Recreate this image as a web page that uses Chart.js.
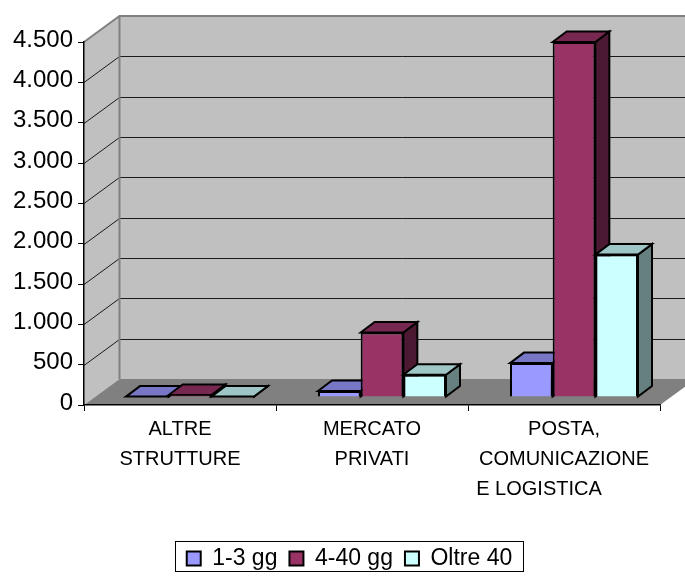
<!DOCTYPE html>
<html>
<head>
<meta charset="utf-8">
<style>
  html, body { margin: 0; padding: 0; background: #fff; }
  canvas { display: block; }
</style>
<script src="https://cdn.jsdelivr.net/npm/chart.js@4/dist/chart.umd.min.js"></script>
</head>
<body>
<canvas id="chart" width="685" height="576"></canvas>
<script>
const categories = [
  ["ALTRE", "STRUTTURE"],
  ["MERCATO", "PRIVATI"],
  ["POSTA,", "COMUNICAZIONE", "E LOGISTICA         "],
];
const seriesNames = ["1-3 gg", "4-40 gg", "Oltre 40"];
const shortStay = [5, 75, 420];
const midStay = [25, 800, 4400];
const longStay = [5, 275, 1765];
const yTickLabels = ["0", "500", "1.000", "1.500", "2.000", "2.500", "3.000", "3.500", "4.000", "4.500"];

// front, top, side colours of each series
const shades = [
  ["#9999FF", "#7777C6", "#4C4C80"],
  ["#993366", "#772850", "#4C1933"],
  ["#CCFFFF", "#9FC6C6", "#668080"],
];

// fake 3d: how far the walls go back, and where the bars sit on the floor
const wallX = 35.5, wallY = 26;
const shiftX = 10, shiftY = 8;
const barX = 14, barY = 10.5;
// the legend is centred under the whole picture, not under the plot
const legendDx = 19.5, legendDy = 4;

function poly(ctx, pts, fill, stroke, width) {
  ctx.beginPath();
  pts.forEach((p, i) => (i ? ctx.lineTo(p[0], p[1]) : ctx.moveTo(p[0], p[1])));
  ctx.closePath();
  if (fill) {
    ctx.fillStyle = fill;
    ctx.fill();
  }
  if (stroke) {
    ctx.strokeStyle = stroke;
    ctx.lineWidth = width;
    ctx.stroke();
  }
}

const walls = {
  id: "walls",
  beforeDraw(chart) {
    const { ctx, chartArea: a, scales } = chart;
    const bx = a.left + wallX;
    ctx.save();
    ctx.fillStyle = "#fff";
    ctx.fillRect(0, 0, chart.width, chart.height);
    poly(ctx, [[bx, a.top - wallY], [a.right + wallX, a.top - wallY], [a.right + wallX, a.bottom - wallY], [bx, a.bottom - wallY]], "#C0C0C0");
    poly(ctx, [[a.left, a.top], [bx, a.top - wallY], [bx, a.bottom - wallY], [a.left, a.bottom]], "#C0C0C0");
    poly(ctx, [[a.left, a.bottom], [bx, a.bottom - wallY], [a.right + wallX, a.bottom - wallY], [a.right, a.bottom]], "#808080");
    // grid lines run along the side wall and then the back wall
    scales.y.ticks.forEach((t) => {
      if (t.value === 0 || t.value === scales.y.max) return;
      const y = Math.round(scales.y.getPixelForValue(t.value)) + 0.5;
      ctx.beginPath();
      ctx.moveTo(a.left, y);
      ctx.lineTo(bx, y - wallY);
      ctx.lineTo(a.right + wallX, y - wallY);
      ctx.strokeStyle = "#1a1a1a";
      ctx.lineWidth = 1;
      ctx.stroke();
    });
    // wall edges
    ctx.beginPath();
    ctx.moveTo(a.left, a.top);
    ctx.lineTo(bx, a.top - wallY);
    ctx.lineTo(a.right + wallX, a.top - wallY);
    ctx.moveTo(bx, a.top - wallY);
    ctx.lineTo(bx, a.bottom - wallY);
    ctx.strokeStyle = "#808080";
    ctx.lineWidth = 2;
    ctx.stroke();
    ctx.restore();
  },
};

// chart.js paints the first dataset last, here the bars have to go left to right
const bars3d = {
  id: "bars3d",
  beforeDatasetsDraw(chart) {
    const ctx = chart.ctx;
    ctx.save();
    ctx.translate(shiftX, -shiftY);
    categories.forEach((_, c) => {
      shades.forEach(([, top, side], s) => {
        const bar = chart.getDatasetMeta(s).data[c];
        const l = bar.x - bar.width / 2, r = bar.x + bar.width / 2;
        const y = bar.y, b = bar.base;
        poly(ctx, [[r, y], [r + barX, y - barY], [r + barX, b - barY], [r, b]], side, "#000", 2);
        poly(ctx, [[l, y], [l + barX, y - barY], [r + barX, y - barY], [r, y]], top, "#000", 2);
        bar.draw(ctx);
      });
    });
    ctx.restore();
    return false;
  },
};

const legendBox = {
  id: "legendBox",
  afterLayout(chart) {
    const legend = chart.legend;
    legend.left += legendDx;
    legend.right += legendDx;
    legend.top += legendDy;
    legend.bottom += legendDy;
  },
  afterDraw(chart) {
    const { ctx, legend } = chart;
    const boxes = legend.legendHitBoxes;
    const last = boxes[boxes.length - 1];
    const x0 = Math.round(boxes[0].left - 12) + 0.5;
    const x1 = Math.round(last.left + last.width + 11) + 0.5;
    ctx.save();
    ctx.strokeStyle = "#000";
    ctx.lineWidth = 1;
    ctx.strokeRect(x0, 541.5, x1 - x0, 30);
    ctx.restore();
  },
};

const datasets = [shortStay, midStay, longStay].map((data, i) => ({
  label: seriesNames[i],
  data,
  backgroundColor: shades[i][0],
  borderColor: "#000",
  borderWidth: 2,
  categoryPercentage: 2 / 3,
  barPercentage: 1,
}));

new Chart(document.getElementById("chart"), {
  type: "bar",
  data: { labels: categories, datasets },
  plugins: [walls, bars3d, legendBox],
  options: {
    responsive: false,
    animation: false,
    layout: { padding: { left: 0, right: 25, top: 42, bottom: 0 } },
    plugins: {
      tooltip: { enabled: false },
      legend: {
        position: "bottom",
        onClick: null,
        labels: {
          boxWidth: 14,
          boxHeight: 14,
          padding: 12,
          color: "#000",
          font: { family: "'Liberation Sans'", size: 23 },
        },
      },
    },
    scales: {
      x: {
        afterFit(scale) {
          scale.height = 126;
        },
        grid: { drawOnChartArea: false, color: "#000", tickLength: 6 },
        border: { color: "#000", width: 1.5 },
        ticks: {
          color: "#000",
          maxRotation: 0,
          autoSkip: false,
          padding: 3,
          font: { family: "'Liberation Sans'", size: 20, lineHeight: 1.5 },
        },
      },
      y: {
        min: 0,
        max: 4500,
        afterFit(scale) {
          scale.width = 84;
        },
        grid: { drawOnChartArea: false, color: "#000", tickLength: 6 },
        border: { color: "#000", width: 1.5 },
        ticks: {
          stepSize: 500,
          color: "#000",
          padding: 5,
          labelOffset: -2,
          font: { family: "'Liberation Sans'", size: 24 },
          callback: (v, i) => yTickLabels[i],
        },
      },
    },
  },
});
</script>
</body>
</html>
